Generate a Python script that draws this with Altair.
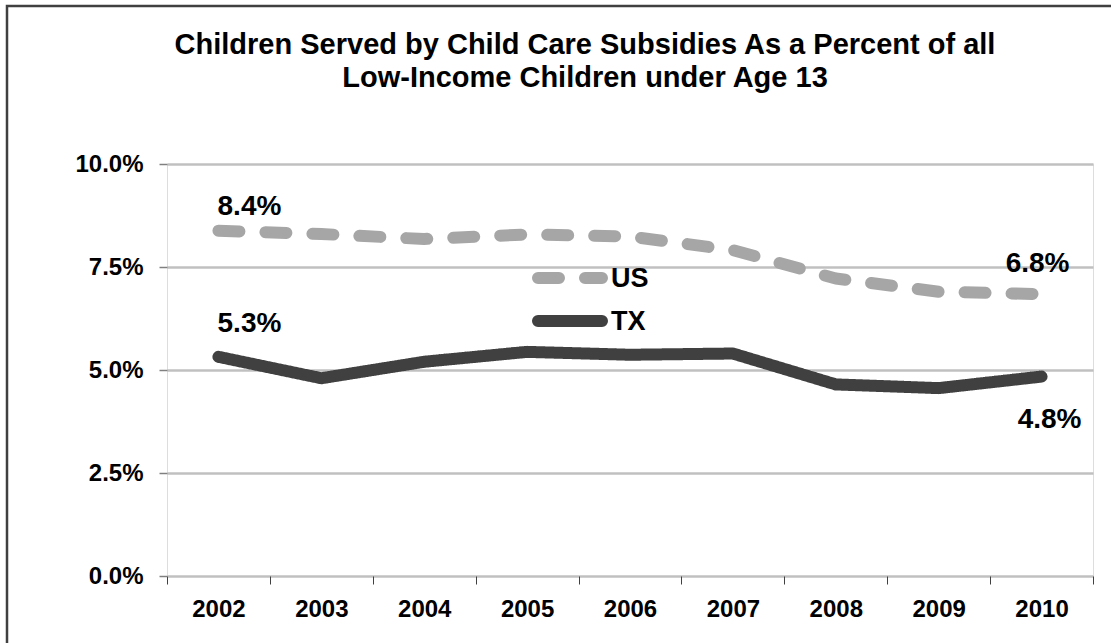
import altair as alt
import pandas as pd

years = ["2002", "2003", "2004", "2005", "2006", "2007", "2008", "2009", "2010"]
us_values = [8.38, 8.30, 8.18, 8.29, 8.24, 7.91, 7.22, 6.90, 6.84]
tx_values = [5.32, 4.80, 5.20, 5.44, 5.37, 5.40, 4.65, 4.56, 4.84]
series_names = ["US", "TX"]
y_ticks = [0, 2.5, 5, 7.5, 10]
title_lines = ["Children Served by Child Care Subsidies As a Percent of all",
               "Low-Income Children under Age 13"]

rows = []
for yr, v in zip(years, us_values):
    rows.append({"year": yr, "series": "US", "value": v})
for yr, v in zip(years, tx_values):
    rows.append({"year": yr, "series": "TX", "value": v})
df = pd.DataFrame(rows)

FONT = "Liberation Sans"
US_COLOR = "#A6A6A6"
TX_COLOR = "#404040"
US_DASH = [21, 26]

x_enc = alt.X("year:O", sort=years,
              scale=alt.Scale(type="band", paddingInner=0, paddingOuter=0),
              axis=alt.Axis(title=None, labelAngle=0, tickBand="extent",
                            labelFontSize=24, labelFont=FONT, labelFontWeight="bold",
                            labelColor="black", labelPadding=13, tickSize=8,
                            tickColor="#404040", tickWidth=1, domain=False, grid=False))
y_enc = alt.Y("value:Q", scale=alt.Scale(domain=[0, 10], nice=False),
              axis=alt.Axis(title=None, values=y_ticks,
                            labelExpr="format(datum.value, '.1f') + '%'",
                            labelFontSize=24, labelFont=FONT, labelFontWeight="bold",
                            labelColor="black", labelPadding=16, tickSize=8,
                            tickColor="#808080", tickWidth=1.5, domain=False,
                            grid=True, gridColor="#C0C0C0", gridWidth=2.5))

color_enc = alt.Color("series:N", sort=series_names,
                      scale=alt.Scale(domain=series_names, range=[US_COLOR, TX_COLOR]),
                      legend=None)
dash_enc = alt.StrokeDash("series:N", sort=series_names,
                          scale=alt.Scale(domain=series_names, range=[US_DASH, [1, 0]]),
                          legend=None)

base = alt.Chart(df)

lines = base.mark_line(strokeWidth=12, strokeCap="round", strokeJoin="round").encode(
    x=x_enc, y=y_enc, color=color_enc, strokeDash=dash_enc)

def label(series, year, dx, dy):
    return base.transform_filter(
        (alt.datum.series == series) & (alt.datum.year == year)
    ).transform_calculate(
        lbl="format(datum.value, '.1f') + '%'"
    ).mark_text(fontSize=28, font=FONT, fontWeight="bold", color="black",
                dx=dx, dy=dy, baseline="middle", align="center").encode(
        x=alt.X("year:O", sort=years), y="value:Q", text="lbl:N")

# legend (drawn as decoration inside the plot, as in the reference)
leg_df = pd.DataFrame({"name": series_names})

def legend_entry(name, color, dash, ypos):
    sw = alt.Chart(leg_df).transform_filter(alt.datum.name == name).mark_rule(
        strokeWidth=12, strokeCap="round", color=color, strokeDash=dash).encode(
        x=alt.value(371), x2=alt.value(435), y=alt.value(ypos))
    tx = alt.Chart(leg_df).transform_filter(alt.datum.name == name).mark_text(
        fontSize=27, font=FONT, fontWeight="bold", color="black",
        align="left", baseline="middle").encode(
        x=alt.value(444), y=alt.value(ypos + 1), text="name:N")
    return sw + tx

frame = alt.Chart(pd.DataFrame({"a": [0]})).mark_rect(
    fill="white", fillOpacity=0, stroke="#404040", strokeWidth=2.5).encode(
    x=alt.value(-160), x2=alt.value(970), y=alt.value(-158), y2=alt.value(500))

chart = alt.layer(
    frame,
    lines,
    legend_entry("US", US_COLOR, US_DASH, 114),
    legend_entry("TX", TX_COLOR, [1, 0], 157),
    label("US", "2002", 31, -24),
    label("TX", "2002", 31, -33),
    label("US", "2010", -4, -30),
    label("TX", "2010", 8, 43),
).properties(
    width=926, height=412,
    autosize=alt.AutoSizeParams(type="none"),
    padding={"left": 167, "top": 164, "right": 18, "bottom": 67},
    title=alt.TitleParams(text=title_lines, fontSize=29, font=FONT, fontWeight="bold",
                          color="black", anchor="middle", dx=-45, offset=-88,
                          lineHeight=33, frame="group"),
).configure_view(
    stroke="#878787", strokeWidth=3
).configure(background="white")

chart.save("out.html", embed_options={"renderer": "svg", "actions": False})
